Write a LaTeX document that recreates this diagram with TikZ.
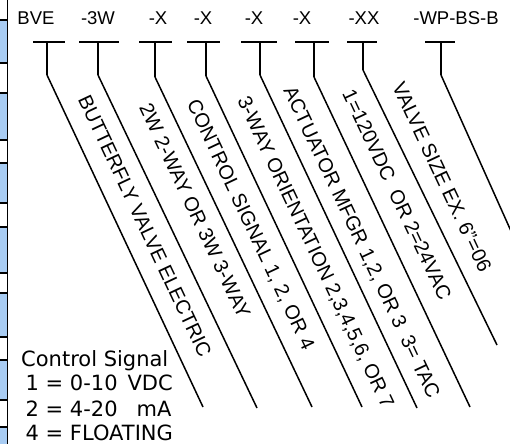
\documentclass[tikz,border=0pt]{standalone}
\usepackage{fontspec}
\setmainfont{Liberation Sans}
\newfontfamily\legendfont{DejaVu Sans}
\definecolor{cellblue}{RGB}{168,204,243}

\tikzset{
  code/.style={font=\fontsize{18.5}{18.5}\selectfont,inner sep=0pt},
  desc/.style={font=\fontsize{20}{20}\selectfont,inner sep=0pt,rotate=-64.8},
  bar/.style={line width=2.4pt},
  stem/.style={line width=2pt},
  lead/.style={line width=1.5pt},
  legend/.style={font=\legendfont\fontsize{21}{24}\selectfont,inner sep=0pt,anchor=base west},
}

\begin{document}
\begin{tikzpicture}[x=1pt,y=-1pt]
  \useasboundingbox (0,0) rectangle (510,444);
  \clip (0,0) rectangle (510,444);

  % side strip
  \foreach \a/\b in {20/63,93/140,163/203,227/273,293/337,360/400,427/444}
    \fill[cellblue] (0,\a) rectangle (7,\b);
  \foreach \y in {20,63,93,140,163,203,227,273,293,337,360,400,427}
    \draw[line width=1.2pt] (0,\y) -- (7,\y);
  \draw[line width=1.6pt] (7.5,0) -- (7.5,444);

  % part number
  \node[code] (bve) at (36,18.5) {BVE};
  \node[code] (way) at (98,18.5) {-3W};
  \node[code] (sig) at (158,18.5) {-X};
  \node[code] (ori) at (203,18.5) {-X};
  \node[code] (mfg) at (254,18.5) {-X};
  \node[code] (vlt) at (302,18.5) {-X};
  \node[code] (size) at (364,18.5) {-XX};
  \node[code] (opt) at (456,18.5) {-WP-BS-B};

  % tees
  \coordinate (l1) at (33,42); \coordinate (r1) at (65,42); \coordinate (t1) at (47,42); \coordinate (k1) at (47,75); \coordinate (e1) at (203,407);
  \coordinate (l2) at (79,42); \coordinate (r2) at (119,42); \coordinate (t2) at (98,42); \coordinate (k2) at (98,75); \coordinate (e2) at (257,408);
  \coordinate (l3) at (139,42); \coordinate (r3) at (172,42); \coordinate (t3) at (155,42); \coordinate (k3) at (155,77); \coordinate (e3) at (312,407);
  \coordinate (l4) at (187,42); \coordinate (r4) at (220,42); \coordinate (t4) at (206,42); \coordinate (k4) at (206,76); \coordinate (e4) at (362,407);
  \coordinate (l5) at (241,42); \coordinate (r5) at (277,42); \coordinate (t5) at (260,42); \coordinate (k5) at (260,75); \coordinate (e5) at (417,408);
  \coordinate (l6) at (295,42); \coordinate (r6) at (329,42); \coordinate (t6) at (314,42); \coordinate (k6) at (314,77); \coordinate (e6) at (470,407);
  \coordinate (l7) at (347,42); \coordinate (r7) at (377,42); \coordinate (t7) at (363,42); \coordinate (k7) at (363,70); \coordinate (e7) at (497,345);
  \coordinate (l8) at (425,42); \coordinate (r8) at (455,42); \coordinate (t8) at (441,42); \coordinate (k8) at (441,75); \coordinate (e8) at (515,240);

  \draw[bar] (l1) -- (r1); \draw[stem] (t1) -- (k1); \draw[lead] (k1) -- (e1);
  \draw[bar] (l2) -- (r2); \draw[stem] (t2) -- (k2); \draw[lead] (k2) -- (e2);
  \draw[bar] (l3) -- (r3); \draw[stem] (t3) -- (k3); \draw[lead] (k3) -- (e3);
  \draw[bar] (l4) -- (r4); \draw[stem] (t4) -- (k4); \draw[lead] (k4) -- (e4);
  \draw[bar] (l5) -- (r5); \draw[stem] (t5) -- (k5); \draw[lead] (k5) -- (e5);
  \draw[bar] (l6) -- (r6); \draw[stem] (t6) -- (k6); \draw[lead] (k6) -- (e6);
  \draw[bar] (l7) -- (r7); \draw[stem] (t7) -- (k7); \draw[lead] (k7) -- (e7);
  \draw[bar] (l8) -- (r8); \draw[stem] (t8) -- (k8); \draw[lead] (k8) -- (e8);

  % descriptions
  \node[desc] (d1) at (145,226) {BUTTERFLY VALVE ELECTRIC};
  \node[desc] (d2) at (195,211) {2W 2-WAY OR 3W 3-WAY};
  \node[desc] (d3) at (250,225) {CONTROL SIGNAL 1, 2, OR 4};
  \node[desc] (d4) at (315,253) {3-WAY ORIENTATION 2,3,4,5,6, OR 7};
  \node[desc] (d5) at (361,243) {ACTUATOR MFGR 1,2, OR 3\ \ 3= TAC};
  \node[desc] (d6) at (397,195) {1=120VDC\ \ OR 2=24VAC};
  \node[desc] (d7) at (442,177) {VALVE SIZE EX. 6”=06};

  % legend
  \node[legend] (leg1) at (21,366) {Control Signal};
  \node[legend] (leg2) at (25.5,390) {1 = 0-10\hspace{10pt}VDC};
  \node[legend] (leg3) at (25.5,416) {2 = 4-20\hspace{19pt}mA};
  \node[legend] (leg4) at (25.5,440) {4 = FLOATING};
\end{tikzpicture}
\end{document}
